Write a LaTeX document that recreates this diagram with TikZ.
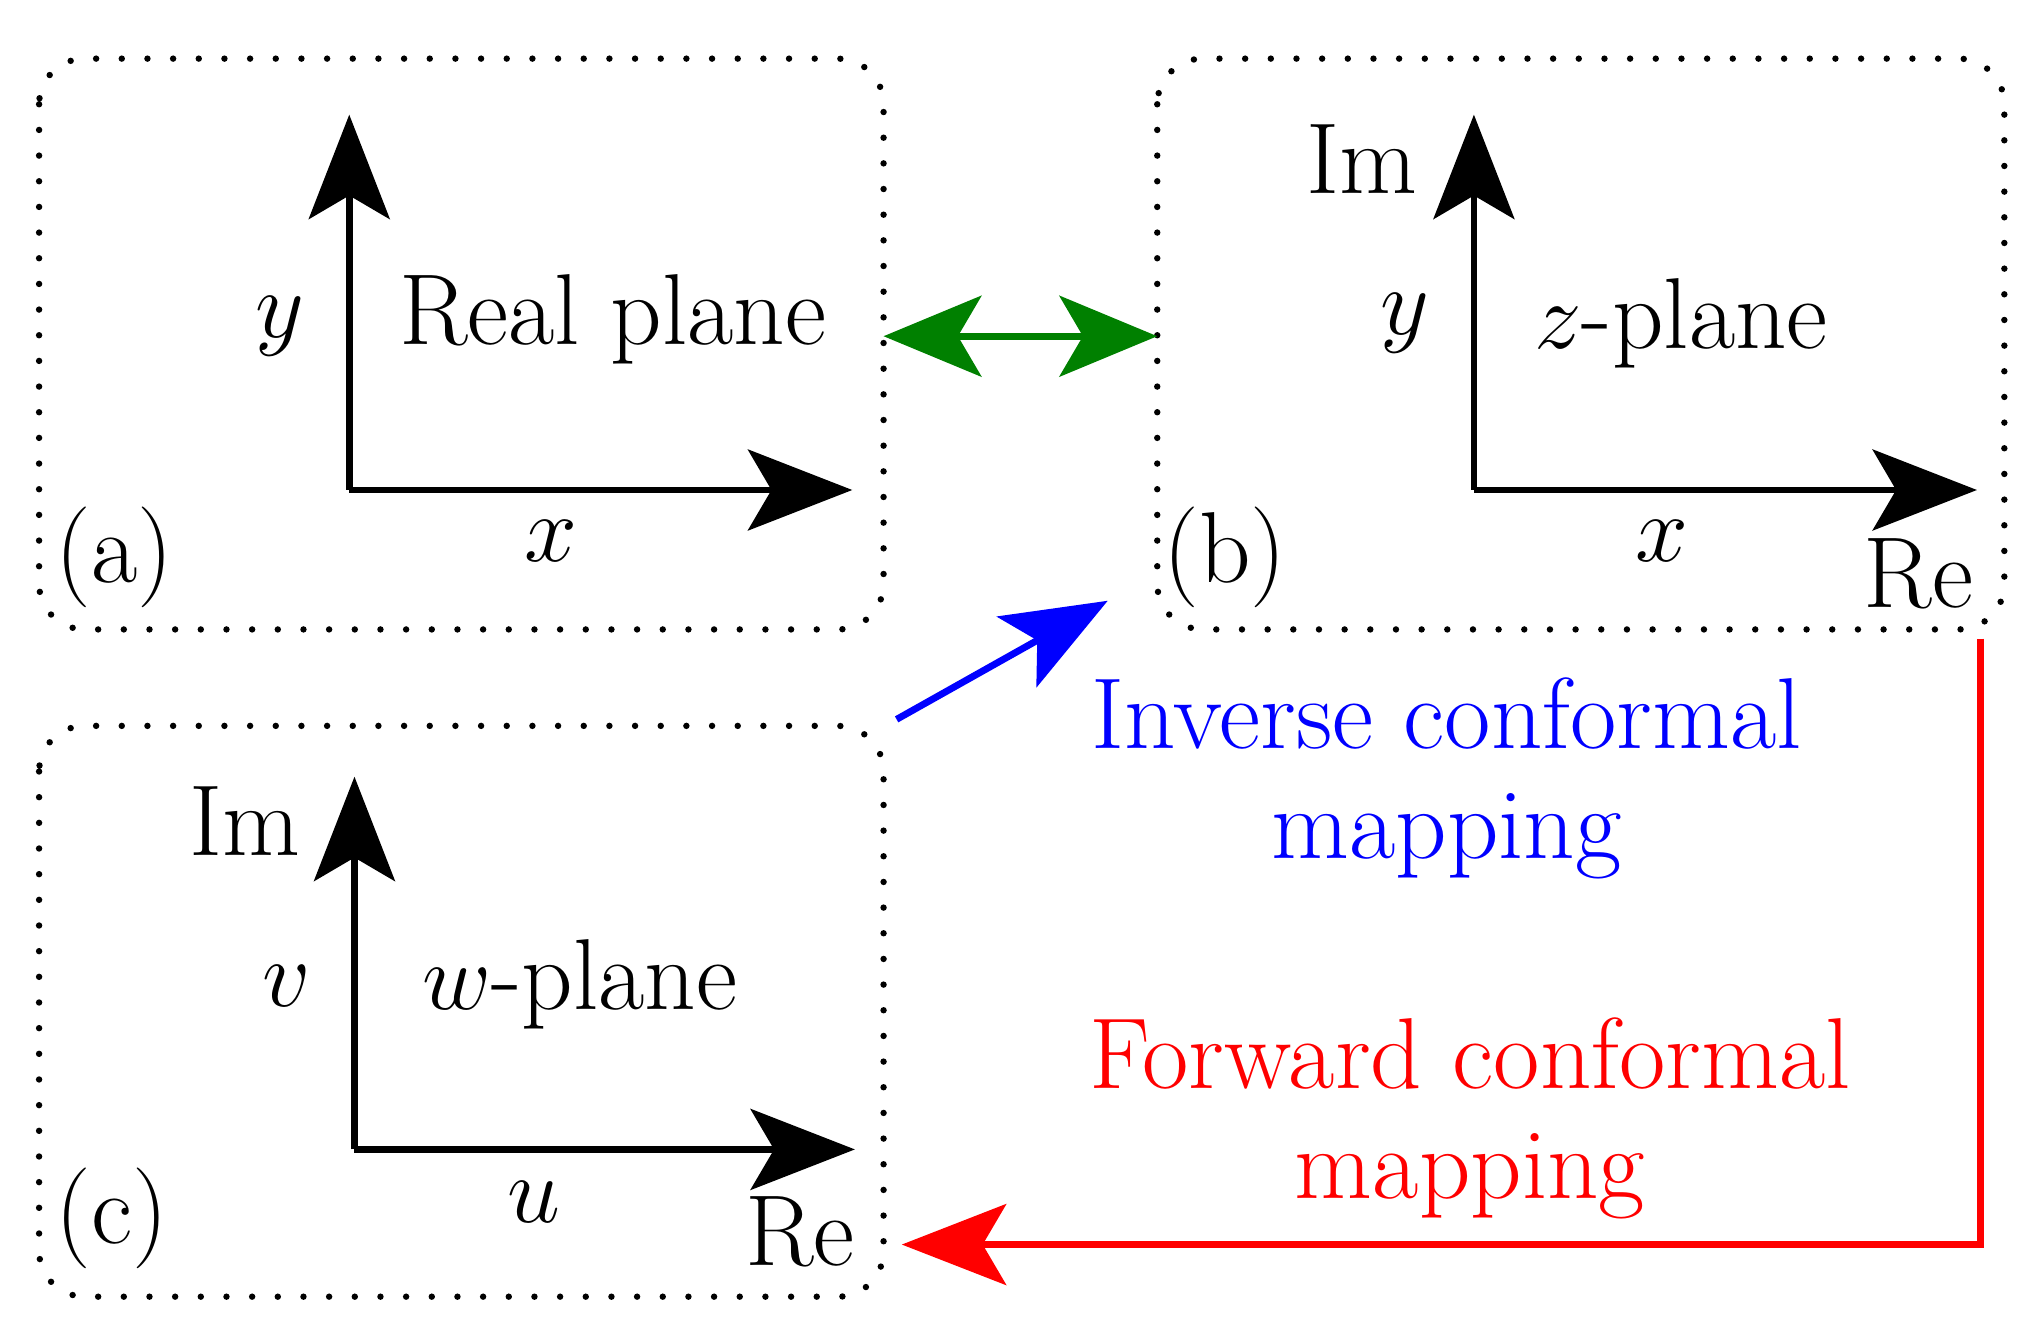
\documentclass[tikz,border=0pt]{standalone}
\usetikzlibrary{arrows.meta}
\begin{document}
\begin{tikzpicture}[x=0.01cm,y=-0.01cm,
  box/.style={draw,line width=1.4pt,dash pattern=on 0pt off 5.6pt,line cap=round,rounded corners=0.35cm},
  ax/.style={line width=1.5pt,-{Stealth[length=0.8cm,width=0.62cm,inset=0.18cm]}},
  lab/.style={font=\fontsize{22}{24}\selectfont,inner sep=0pt}]
\useasboundingbox (0,0) rectangle (1560,1022);
\draw[box] (30,45) rectangle (678,483);
\draw[box] (888,45) rectangle (1538,483);
\draw[box] (30,557) rectangle (678,995);
% a
\coordinate (oa) at (268,376); \coordinate (ya) at (268,88); \coordinate (xa) at (654,376);
\draw[ax] (oa) -- (ya); \draw[ax] (oa) -- (xa);
\node[lab] (la) at (215,250) {$y$};
\node[lab] (lb) at (423,415) {$x$};
\node[lab] (lc) at (470,245) {Real plane};
\node[lab] (ld) at (88,428) {(a)};
% b
\coordinate (ob) at (1131,376); \coordinate (yb) at (1131,88); \coordinate (xb) at (1517,376);
\draw[ax] (ob) -- (yb); \draw[ax] (ob) -- (xb);
\node[lab] (b1) at (1045,122) {Im};
\node[lab] (b2) at (1078,248) {$y$};
\node[lab] (b3) at (1290,248) {$z$-plane};
\node[lab] (b4) at (1275,415) {$x$};
\node[lab] (b5) at (1472,440) {Re};
\node[lab] (b6) at (940,428) {(b)};
% c
\coordinate (oc) at (272,882); \coordinate (yc) at (272,596); \coordinate (xc) at (656,882);
\draw[ax] (oc) -- (yc); \draw[ax] (oc) -- (xc);
\node[lab] (c1) at (188,630) {Im};
\node[lab] (c2) at (220,757) {$v$};
\node[lab] (c3) at (445,755) {$w$-plane};
\node[lab] (c4) at (410,922) {$u$};
\node[lab] (c5) at (614,945) {Re};
\node[lab] (c6) at (86,935) {(c)};
% connectors
\definecolor{dg}{RGB}{0,128,0}
\coordinate (g1) at (678,258); \coordinate (g2) at (888,258);
\draw[dg,line width=1.5pt,{Stealth[length=0.75cm,width=0.62cm,inset=0.18cm]}-{Stealth[length=0.75cm,width=0.62cm,inset=0.18cm]}] (g1) -- (g2);
\coordinate (bl1) at (688,552); \coordinate (bl2) at (850,461);
\draw[blue,ax] (bl1) -- (bl2);
\node[lab,blue,align=center] (inv) at (1110,597) {Inverse conformal\\mapping};
\coordinate (r1) at (1520,490); \coordinate (r2) at (1520,955); \coordinate (r3) at (692,955);
\draw[red,ax] (r1) -- (r2) -- (r3);
\node[lab,red,align=center] (fwd) at (1128,858) {Forward conformal\\mapping};
\end{tikzpicture}
\end{document}
